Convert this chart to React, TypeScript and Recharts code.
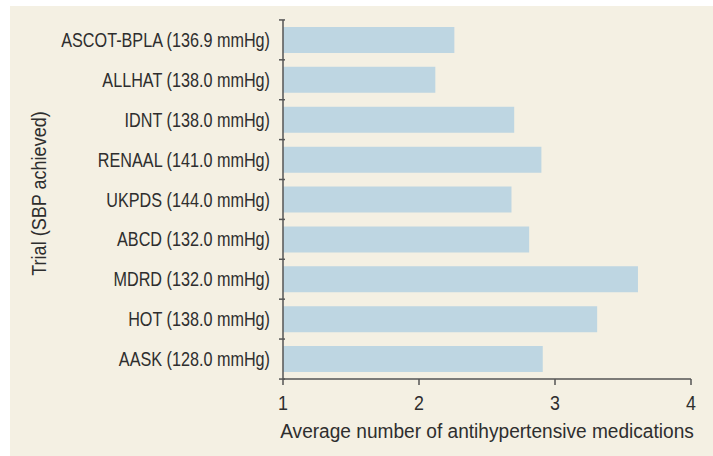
import React from 'react';
import { BarChart, Bar, XAxis, YAxis, Label } from 'recharts';

const trials = [
    'ASCOT-BPLA (136.9 mmHg)',
    'ALLHAT (138.0 mmHg)',
    'IDNT (138.0 mmHg)',
    'RENAAL (141.0 mmHg)',
    'UKPDS (144.0 mmHg)',
    'ABCD (132.0 mmHg)',
    'MDRD (132.0 mmHg)',
    'HOT (138.0 mmHg)',
    'AASK (128.0 mmHg)',
];
const medications = [2.26, 2.12, 2.7, 2.9, 2.68, 2.81, 3.61, 3.31, 2.91];
const xTicks = [1, 2, 3, 4];

const data = trials.map((name, i) => ({ name, meds: medications[i] }));

const FONT = '"Liberation Sans", Arial, sans-serif';
const TEXT = '#2e2e2e';
const AXIS = '#555555';
const BAND = 40;

// condensed-looking text: horizontally squeezed sans
const NarrowText = ({ x, y, anchor = 'middle', angle = 0, size = 20, squeeze = 0.81, children }: any) => (
    <text
        transform={`translate(${x},${y}) rotate(${angle}) scale(${squeeze},1)`}
        textAnchor={anchor}
        fill={TEXT}
        fontSize={size}
        fontFamily={FONT}
    >
        {children}
    </text>
);

const TrialTick = (props: any) => {
    const { x, y, payload, index } = props;
    const last = index === trials.length - 1;
    return (
        <g>
            <line x1={x + 4} x2={x + 10} y1={y - BAND / 2} y2={y - BAND / 2} stroke={AXIS} strokeWidth={1.5} />
            {last && <line x1={x + 4} x2={x + 10} y1={y + BAND / 2} y2={y + BAND / 2} stroke={AXIS} strokeWidth={1.5} />}
            <NarrowText x={x - 5} y={y + 7} anchor="end">
                {payload.value}
            </NarrowText>
        </g>
    );
};

const ValueTick = (props: any) => {
    const { x, y, payload } = props;
    return (
        <NarrowText x={x} y={y + 23} size={21} squeeze={0.85}>
            {payload.value}
        </NarrowText>
    );
};

const App: React.FC = () => {
    return (
        <div style={{ position: 'absolute', left: 10, top: 6, width: 703, height: 450, background: '#f4f0e3' }}>
            <BarChart
                width={703}
                height={450}
                data={data}
                layout="vertical"
                barCategoryGap="17.5%"
                margin={{ top: 14, right: 22, left: 0, bottom: 0 }}
            >
                <XAxis
                    type="number"
                    domain={[1, 4]}
                    ticks={xTicks}
                    height={77}
                    stroke={AXIS}
                    strokeWidth={1.5}
                    tickSize={6}
                    tick={<ValueTick />}
                >
                    <Label
                        content={(p: any) => {
                            const vb = p.viewBox;
                            return (
                                <NarrowText x={vb.x + vb.width / 2} y={vb.y + 59} size={21} squeeze={0.91}>
                                    Average number of antihypertensive medications
                                </NarrowText>
                            );
                        }}
                    />
                </XAxis>
                <YAxis
                    type="category"
                    dataKey="name"
                    width={273}
                    stroke={AXIS}
                    strokeWidth={1.5}
                    tickLine={false}
                    interval={0}
                    tick={<TrialTick />}
                >
                    <Label
                        content={(p: any) => {
                            const vb = p.viewBox;
                            return (
                                <NarrowText x={36} y={vb.y + vb.height / 2 - 6} angle={-90} size={21} squeeze={0.86}>
                                    Trial (SBP achieved)
                                </NarrowText>
                            );
                        }}
                    />
                </YAxis>
                <Bar dataKey="meds" fill="#bed6e2" isAnimationActive={false} />
            </BarChart>
        </div>
    );
};

export default App;
